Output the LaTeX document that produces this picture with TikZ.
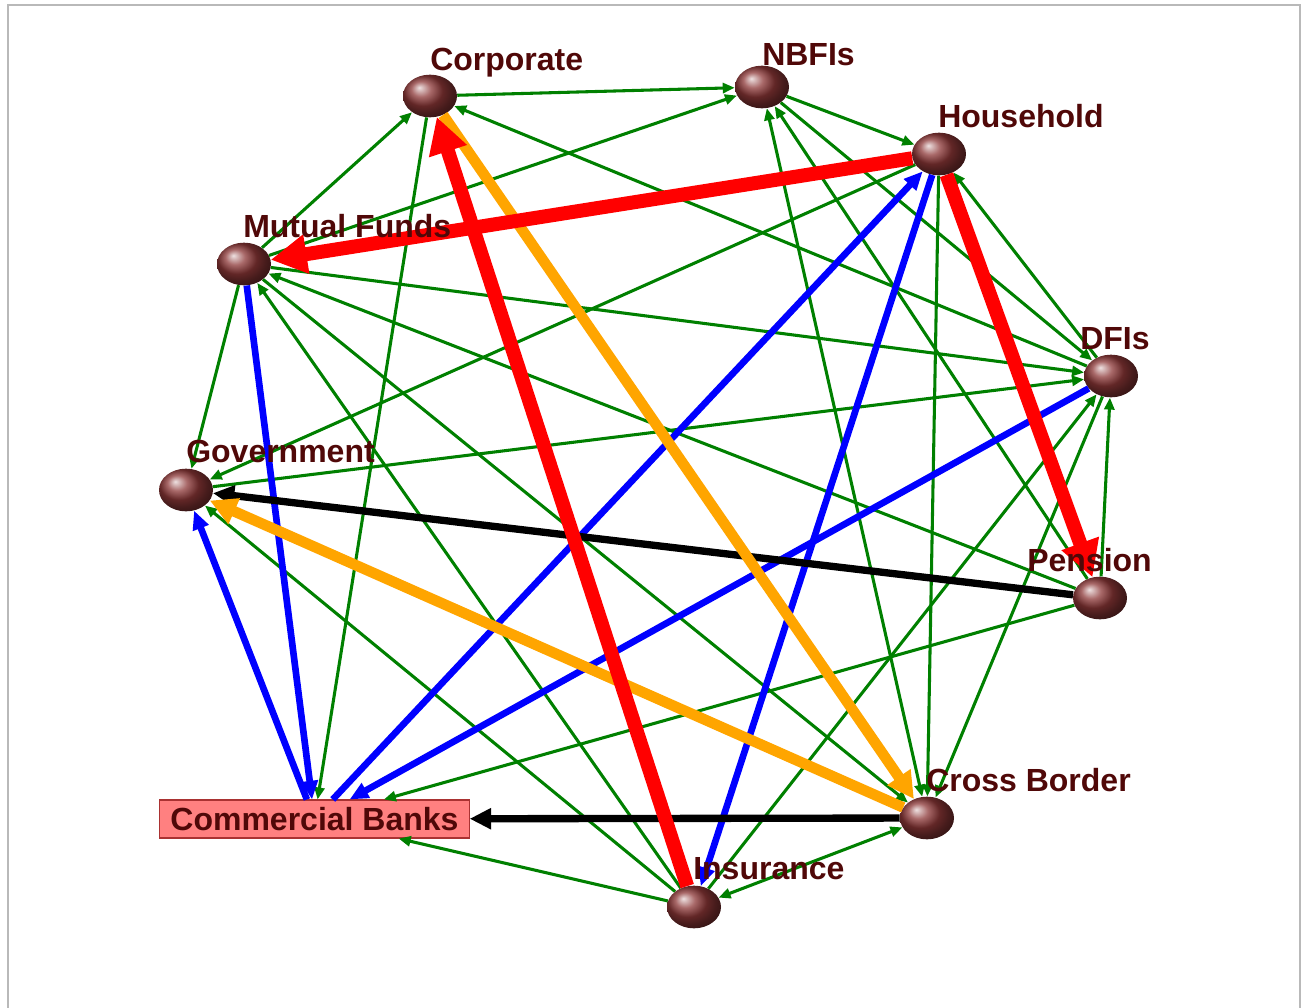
\documentclass[tikz,border=0pt]{standalone}
\usepackage{fontspec}
\setmainfont{Liberation Sans}
\usetikzlibrary{arrows.meta,shapes.geometric}
\definecolor{lblcol}{RGB}{80,8,8}
\definecolor{ballcol}{RGB}{140,55,55}
\definecolor{grn}{RGB}{0,128,0}
\definecolor{orng}{RGB}{255,165,0}
\definecolor{cbfill}{RGB}{255,128,128}
\definecolor{cbline}{RGB}{170,50,50}
\tikzset{
  sphere/.style={ellipse,minimum width=40.5pt,minimum height=32pt,inner sep=0pt,ball color=ballcol},
  lbl/.style={anchor=base west,inner sep=0pt,text=lblcol,font=\bfseries\fontsize{24}{24}\selectfont},
  bankbox/.style={rectangle,draw=cbline,fill=cbfill,line width=0.8pt,minimum width=232pt,minimum height=28.5pt,inner sep=0pt,text=lblcol,font=\bfseries\fontsize{24}{24}\selectfont},
  gflow/.style={draw=grn,line width=2.3pt,-{Triangle[length=9pt,width=7.5pt]}},
  gboth/.style={draw=grn,line width=2.3pt,{Triangle[length=9pt,width=7.5pt]}-{Triangle[length=9pt,width=7.5pt]}},
  bflow/.style={draw=blue,line width=5pt,-{Triangle[length=14pt,width=12pt]}},
  kflow/.style={draw=black,line width=5.5pt,-{Triangle[length=16pt,width=15pt]}},
  oflow/.style={draw=orng,line width=8pt,-{Triangle[length=20pt,width=20pt]}},
  rflow/.style={draw=red,line width=10.5pt,-{Triangle[length=27pt,width=28pt]}}
}
\begin{document}
\begin{tikzpicture}[x=0.75pt,y=-0.75pt]
\useasboundingbox (0,0) rectangle (1303,1007);
\draw[gray!55,line width=0.9pt] (8,1010) -- (8,5) -- (1300,5) -- (1300,1010);

% spheres
\node[sphere] (co) at (430,96) {};
\node[sphere] (nb) at (762,87) {};
\node[sphere] (hh) at (939,154) {};
\node[sphere] (mf) at (244,264) {};
\node[sphere] (df) at (1111,376) {};
\node[sphere] (go) at (186,490) {};
\node[sphere] (pe) at (1100,598) {};
\node[sphere] (cx) at (927,818) {};
\node[sphere] (ins) at (694,907) {};
\node[bankbox] (cb) at (314.5,819) {Commercial Banks};

% green links
\draw[gflow] (co) -- (nb);
\draw[gflow] (mf) -- (co);
\draw[gflow] (mf) -- (nb);
\draw[gflow] (co) -- (cb);
\draw[gflow] (df) -- (co);
\draw[gflow] (nb) -- (hh);
\draw[gflow] (nb) -- (df);
\draw[gflow] (pe) -- (nb);
\draw[gboth] (nb) -- (cx);
\draw[gflow] (hh) -- (go);
\draw[gflow] (hh) -- (cx);
\draw[gflow] (df) -- (hh);
\draw[gflow] (mf) -- (go);
\draw[gflow] (mf) -- (df);
\draw[gflow] (pe) -- (mf);
\draw[gflow] (mf) -- (cx);
\draw[gflow] (ins) -- (mf);
\draw[gflow] (go) -- (df);
\draw[gflow] (ins) -- (go);
\draw[gflow] (ins) -- (cb);
\draw[gflow] (pe) -- (cb);
\draw[gboth] (ins) -- (cx);
\draw[gflow] (ins) -- (df);
\draw[gflow] (df) -- (cx);
\draw[gflow] (pe) -- (df);

% blue links
\draw[bflow] (cb) -- (go);
\draw[bflow] (mf) -- (cb);
\draw[bflow] (cb) -- (hh);
\draw[bflow] (hh) -- (ins);
\draw[bflow] (df) -- (cb);

% black, orange, red links
\draw[kflow] (pe) -- (go);
\draw[kflow] (cx) -- (cb);
\draw[oflow] (co) -- (cx);
\draw[oflow] (cx) -- (go);
\draw[rflow] (ins) -- (co);
\draw[rflow] (hh) -- (mf);
\draw[rflow] (hh) -- (pe);

% labels
\node[lbl] (co-l) at (430,70) {Corporate};
\node[lbl] (nb-l) at (762,65) {NBFIs};
\node[lbl] (hh-l) at (938,127) {Household};
\node[lbl] (mf-l) at (243,237) {Mutual Funds};
\node[lbl] (df-l) at (1080,349) {DFIs};
\node[lbl] (go-l) at (186,462) {Government};
\node[lbl] (pe-l) at (1027,571) {Pension};
\node[lbl] (cx-l) at (926,791) {Cross Border};
\node[lbl] (ins-l) at (693,879) {Insurance};
\end{tikzpicture}
\end{document}
